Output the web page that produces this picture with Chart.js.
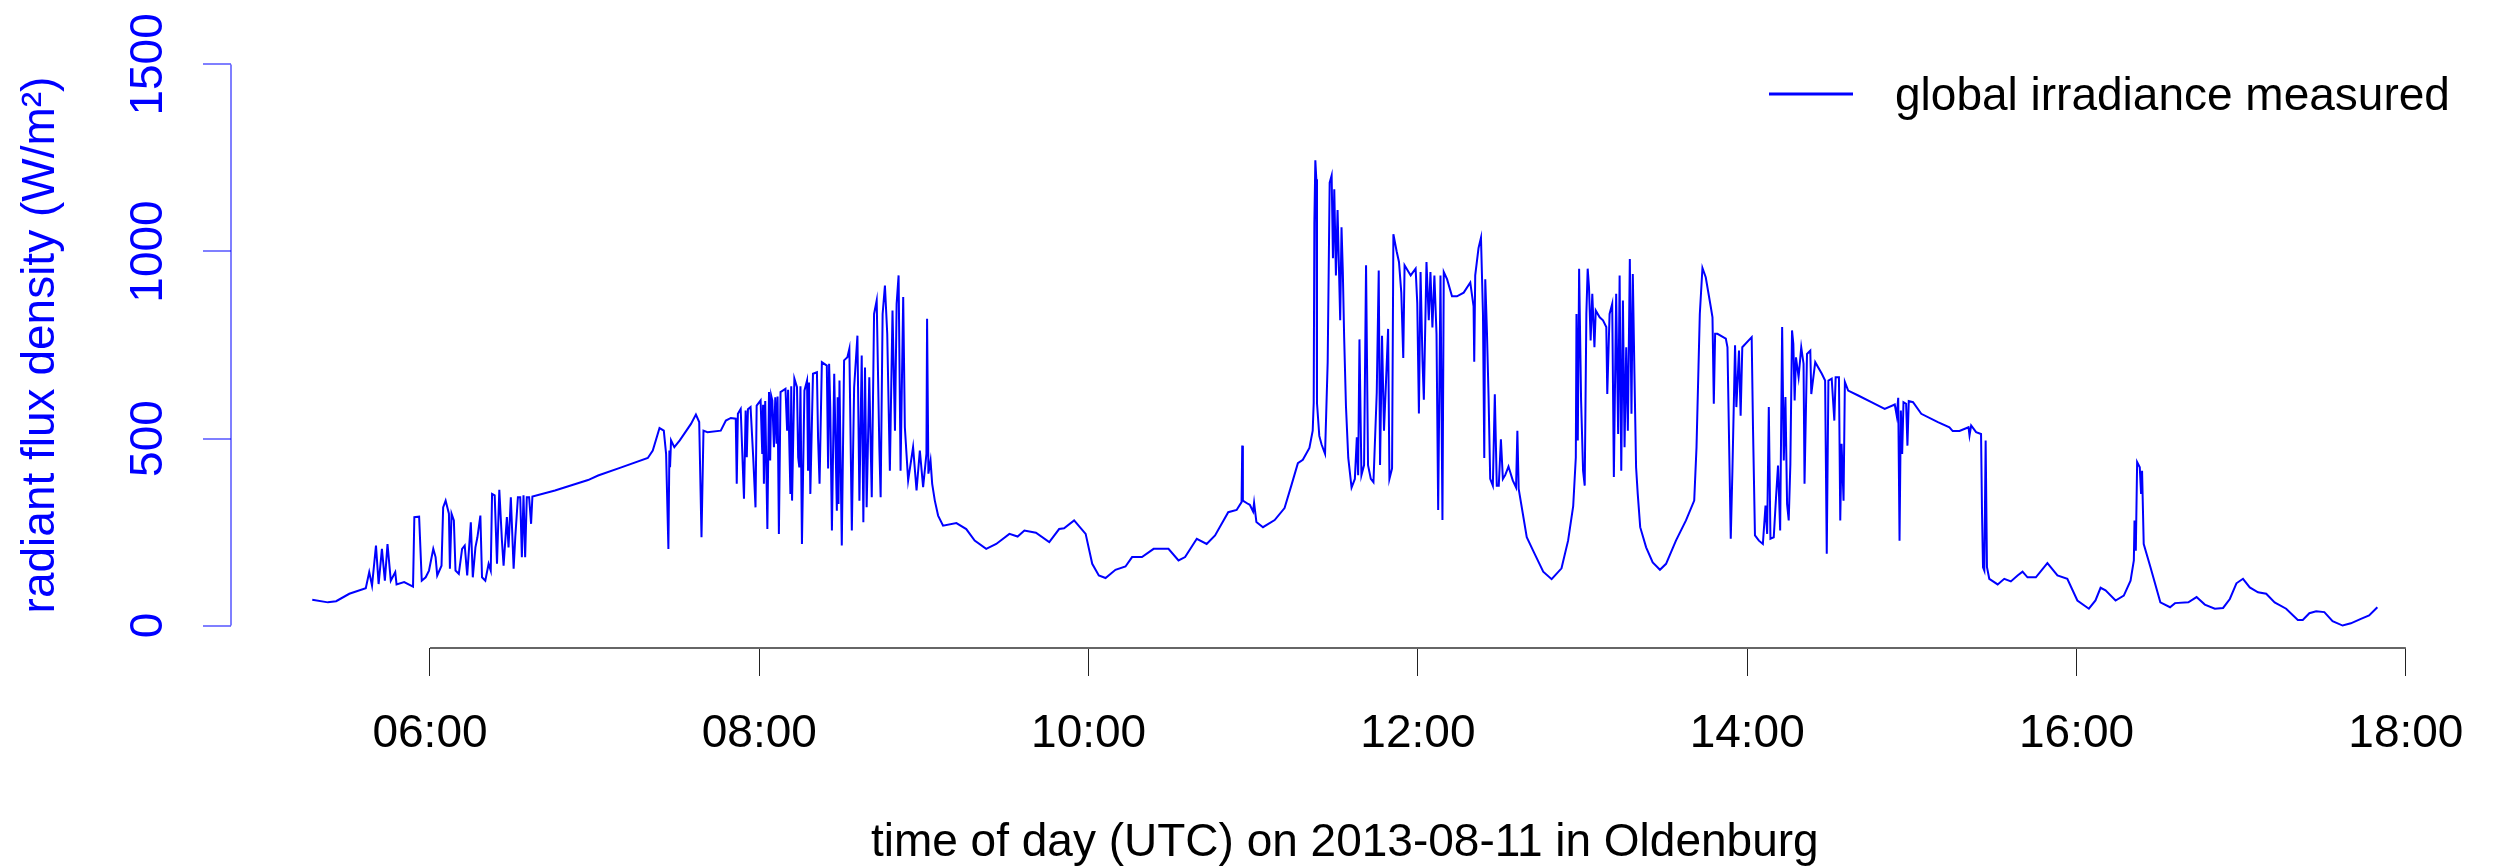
<!DOCTYPE html>
<html>
<head>
<meta charset="utf-8">
<title>global irradiance measured - Oldenburg 2013-08-11</title>
<script src="https://cdn.jsdelivr.net/npm/chart.js@4.4.1/dist/chart.umd.min.js"></script>
<style>
  html, body { margin: 0; padding: 0; background: #fff; }
  #wrap { width: 2495px; height: 866px; }
</style>
</head>
<body>
<div id="wrap"><canvas id="chart-irradiance" width="2495" height="866"></canvas></div>
<script>
// --- data (time of day in decimal hours UTC, irradiance in W/m²) ---
const hoursDawn = [5.285, 5.38, 5.43, 5.51, 5.61, 5.631, 5.648, 5.672, 5.688, 5.708,
  5.726, 5.742, 5.762, 5.789, 5.797, 5.843, 5.897, 5.905, 5.934, 5.95,
  5.974, 5.994, 6.02, 6.034, 6.044, 6.07, 6.08, 6.095, 6.115, 6.121,
  6.131, 6.145, 6.155, 6.175, 6.195, 6.211, 6.226, 6.248, 6.26, 6.276,
  6.288, 6.306, 6.316, 6.336, 6.356, 6.369, 6.377, 6.393, 6.407, 6.421,
  6.437, 6.447, 6.467, 6.477, 6.491, 6.508, 6.518, 6.534, 6.548, 6.558,
  6.568, 6.578, 6.588, 6.602, 6.614, 6.622, 6.759, 6.96];
const wm2Dawn = [69, 62, 65, 85, 100, 143, 107, 214, 111, 205,
  120, 218, 120, 143, 110, 116, 104, 290, 291, 120,
  129, 147, 205, 183, 134, 160, 316, 334, 299, 152,
  299, 281, 147, 138, 205, 214, 134, 276, 129, 209,
  236, 294, 129, 120, 165, 147, 352, 348, 165, 363,
  227, 160, 290, 209, 343, 152, 236, 343, 343, 183,
  348, 183, 343, 343, 272, 345, 361, 389];

const hoursMorning = [7.021, 7.162, 7.323, 7.353, 7.394, 7.42, 7.434, 7.448, 7.454, 7.458,
  7.464, 7.484, 7.517, 7.585, 7.615, 7.635, 7.649, 7.661, 7.685, 7.766,
  7.797, 7.827, 7.857, 7.863, 7.87, 7.887, 7.907, 7.917, 7.924, 7.931,
  7.947, 7.963, 7.977, 7.984, 8.008, 8.018, 8.023, 8.028, 8.036, 8.049,
  8.059, 8.066, 8.072, 8.079, 8.089, 8.097, 8.105, 8.111, 8.119, 8.129,
  8.159, 8.169, 8.175, 8.189, 8.194, 8.199, 8.213, 8.229, 8.236, 8.243,
  8.25, 8.259, 8.274, 8.29, 8.296, 8.302, 8.31, 8.326, 8.35, 8.357,
  8.366, 8.38, 8.41, 8.418, 8.424, 8.431, 8.441, 8.455, 8.471, 8.476,
  8.481, 8.487, 8.501, 8.515, 8.535, 8.547, 8.562, 8.569, 8.576, 8.596,
  8.608, 8.622, 8.632, 8.642, 8.652, 8.668, 8.683, 8.697, 8.713, 8.729,
  8.737, 8.749, 8.763, 8.777, 8.793, 8.809, 8.824, 8.834, 8.846, 8.858,
  8.874, 8.884, 8.904, 8.934, 8.955, 8.975, 8.995, 9.015];
const wm2Morning = [401, 423, 448, 468, 528, 521, 459, 205, 468, 423,
  495, 477, 495, 539, 564, 544, 236, 521, 517, 521,
  548, 555, 553, 379, 566, 579, 339, 575, 450, 578,
  584, 450, 316, 588, 602, 459, 590, 379, 600, 258,
  624, 441, 615, 602, 477, 610, 486, 612, 245, 624,
  633, 521, 630, 352, 640, 334, 660, 637, 450, 423,
  640, 218, 628, 655, 414, 650, 352, 673, 677, 500,
  379, 704, 695, 420, 700, 584, 254, 673, 307, 610,
  325, 655, 214, 709, 717, 740, 254, 450, 637, 775,
  334, 722, 276, 690, 316, 664, 343, 833, 869, 477,
  343, 833, 909, 780, 414, 842, 521, 860, 936, 414,
  878, 530, 388, 477, 361, 468, 370, 459];

const hoursLateMorning = [9.019, 9.027, 9.04, 9.05, 9.066, 9.086, 9.116, 9.197, 9.257, 9.308,
  9.378, 9.439, 9.519, 9.569, 9.61, 9.68, 9.761, 9.821, 9.851, 9.912,
  9.982, 10.022, 10.062, 10.103, 10.163, 10.224, 10.264, 10.324, 10.395, 10.485,
  10.546, 10.586, 10.657, 10.717, 10.768, 10.848, 10.899, 10.929, 10.933, 10.937,
  10.969];
const wm2LateMorning = [820, 406, 441, 379, 334, 294, 267, 274, 258, 227,
  205, 218, 245, 238, 254, 248, 223, 258, 260, 281,
  245, 165, 134, 127, 149, 158, 183, 183, 205, 205,
  174, 183, 232, 218, 241, 303, 309, 330, 481, 334,
  325];

const hoursNoon = [10.979, 10.999, 11.005, 11.019, 11.059, 11.13, 11.19, 11.231, 11.271, 11.301,
  11.341, 11.361, 11.367, 11.371, 11.377, 11.383, 11.387, 11.401, 11.415, 11.436,
  11.452, 11.464, 11.476, 11.484, 11.492, 11.502, 11.512, 11.528, 11.536, 11.544,
  11.552, 11.563, 11.577, 11.597, 11.617, 11.629, 11.637, 11.645, 11.657, 11.673,
  11.685, 11.697, 11.714, 11.73, 11.75, 11.762, 11.77, 11.782, 11.794, 11.806,
  11.819, 11.827, 11.843, 11.851, 11.871, 11.885, 11.899, 11.911, 11.919, 11.956,
  11.986, 11.996, 12.006, 12.016, 12.028, 12.036, 12.052, 12.066, 12.076, 12.088,
  12.1, 12.113, 12.123, 12.137, 12.149, 12.157, 12.177, 12.207, 12.237, 12.278,
  12.318, 12.338, 12.342, 12.348, 12.368, 12.383, 12.395, 12.403, 12.409, 12.419,
  12.429, 12.439, 12.455, 12.467, 12.479, 12.491, 12.504, 12.516, 12.53, 12.55,
  12.576, 12.596, 12.604, 12.612, 12.661, 12.701, 12.761, 12.812, 12.872, 12.912,
  12.943];
const wm2Noon = [323, 305, 328, 277, 263, 282, 314, 374, 434, 443,
  475, 521, 595, 1074, 1244, 1193, 595, 507, 484, 459,
  705, 1184, 1203, 982, 1166, 936, 1111, 816, 1065, 945,
  770, 586, 448, 369, 392, 503, 402, 765, 402, 429,
  963, 429, 392, 383, 623, 949, 429, 775, 521, 650,
  793, 392, 420, 1046, 1000, 972, 890, 715, 963, 936,
  954, 862, 567, 945, 705, 604, 972, 816, 945, 797,
  936, 779, 309, 936, 282, 945, 926, 880, 880, 890,
  917, 853, 705, 936, 1009, 1037, 834, 448, 926, 788,
  613, 392, 374, 618, 374, 374, 498, 392, 402, 425,
  388, 369, 521, 365, 236, 199, 144, 124, 153, 227,
  319];

const hoursAfternoon = [12.959, 12.963, 12.971, 12.979, 12.991, 13.003, 13.013, 13.023, 13.031, 13.039,
  13.049, 13.059, 13.072, 13.08, 13.104, 13.124, 13.144, 13.15, 13.164, 13.18,
  13.19, 13.204, 13.216, 13.225, 13.235, 13.245, 13.255, 13.265, 13.275, 13.287,
  13.297, 13.305, 13.315, 13.325, 13.335, 13.35, 13.386, 13.426, 13.47, 13.507,
  13.567, 13.628, 13.678, 13.692, 13.704, 13.712, 13.728, 13.748, 13.779, 13.789,
  13.797, 13.805, 13.819, 13.87, 13.88, 13.9, 13.91, 13.926, 13.934, 13.95,
  13.96, 13.97, 14.027, 14.035, 14.047, 14.071, 14.095, 14.111, 14.121, 14.131,
  14.141, 14.161, 14.175, 14.187, 14.2, 14.212, 14.222, 14.232, 14.242, 14.252,
  14.262, 14.272, 14.28, 14.288, 14.296, 14.312, 14.328, 14.342, 14.348, 14.363,
  14.383, 14.389, 14.413, 14.453, 14.473, 14.483, 14.493, 14.513, 14.529, 14.537,
  14.557, 14.565, 14.573, 14.585, 14.593, 14.613, 14.674, 14.754, 14.835];
const wm2Afternoon = [450, 833, 495, 954, 602, 414, 374, 833, 954, 905,
  762, 887, 744, 842, 824, 816, 798, 619, 833, 860,
  397, 887, 512, 936, 414, 869, 477, 744, 521, 980,
  566, 940, 673, 423, 352, 263, 209, 169, 149, 165,
  227, 281, 334, 477, 691, 833, 956, 931, 851, 824,
  593, 780, 780, 767, 744, 232, 414, 749, 584, 735,
  561, 744, 771, 530, 241, 227, 218, 321, 245, 584,
  232, 236, 343, 428, 254, 798, 441, 611, 325, 281,
  432, 789, 753, 602, 717, 664, 744, 700, 379, 726,
  735, 619, 704, 673, 655, 192, 655, 660, 548, 664,
  664, 281, 486, 334, 651, 628, 615, 597, 579];

const hoursLateAfternoon = [14.896, 14.908, 14.917, 14.925, 14.933, 14.941, 14.949, 14.965, 14.973, 14.981,
  15.007, 15.057, 15.158, 15.228, 15.248, 15.289, 15.344, 15.35, 15.36, 15.39,
  15.42, 15.426, 15.432, 15.44, 15.448, 15.456, 15.47, 15.521, 15.561, 15.601,
  15.642, 15.672, 15.702, 15.753, 15.823, 15.884, 15.944, 16.005, 16.075, 16.115,
  16.146, 16.176, 16.237, 16.287, 16.328, 16.348, 16.352, 16.36, 16.368, 16.384,
  16.392, 16.398, 16.408, 16.449, 16.509];
const wm2LateAfternoon = [591, 561, 609, 227, 575, 459, 597, 593, 481, 600,
  597, 566, 544, 530, 520, 520, 530, 508, 535, 517,
  512, 299, 156, 147, 495, 156, 125, 110, 125, 118,
  134, 144, 129, 129, 167, 134, 125, 67, 45, 67,
  101, 94, 67, 80, 120, 174, 281, 200, 437, 423,
  352, 414, 218, 156, 62];

const hoursEvening = [16.568, 16.598, 16.679, 16.729, 16.779, 16.84, 16.89, 16.931, 16.971, 17.011,
  17.052, 17.102, 17.152, 17.203, 17.273, 17.344, 17.374, 17.414, 17.455, 17.505,
  17.555, 17.616, 17.666, 17.727, 17.777, 17.827];
const wm2Evening = [49, 60, 62, 76, 56, 45, 47, 71, 113, 125,
  102, 89, 85, 62, 45, 15, 15, 33, 38, 36,
  12, 0, 6, 18, 27, 49];

const xTickHours = [6, 8, 10, 12, 14, 16, 18];
const xTickLabels = ['06:00', '08:00', '10:00', '12:00', '14:00', '16:00', '18:00'];
const yTickValues = [0, 500, 1000, 1500];

const seriesLabel = 'global irradiance measured';
const xTitle = 'time of day (UTC) on 2013-08-11 in Oldenburg';
const yTitle = 'radiant flux density (W/m²)';

// R-style plot region: data range plus 4% on each side
const X_MIN = 4.7915, X_MAX = 18.3202;
const Y_MIN = -60, Y_MAX = 1560;

const FONT = "'Liberation Sans', Arial, Helvetica, sans-serif";

const hours = [].concat(hoursDawn, hoursMorning, hoursLateMorning, hoursNoon, hoursAfternoon, hoursLateAfternoon, hoursEvening);
const irradiance = [].concat(wm2Dawn, wm2Morning, wm2LateMorning, wm2Noon, wm2Afternoon, wm2LateAfternoon, wm2Evening);
if (hours.length !== irradiance.length) console.warn('length mismatch', hours.length, irradiance.length);
const points = hours.map((h, i) => ({ x: h, y: irradiance[i] }));

// axis lines that only run from first to last tick (like R's axis()), plus the legend
const rStyleAxes = {
  id: 'rStyleAxes',
  afterDraw(chart){
    const { ctx, chartArea, scales: { x, y } } = chart;
    ctx.save();
    // y axis
    ctx.strokeStyle = 'rgba(0,0,255,0.5)';
    ctx.lineWidth = 2;
    ctx.beginPath();
    ctx.moveTo(chartArea.left, y.getPixelForValue(yTickValues[0]));
    ctx.lineTo(chartArea.left, y.getPixelForValue(yTickValues[yTickValues.length - 1]));
    ctx.stroke();
    // x axis
    ctx.strokeStyle = '#666';
    ctx.lineWidth = 2;
    ctx.beginPath();
    ctx.moveTo(x.getPixelForValue(xTickHours[0]), chartArea.bottom);
    ctx.lineTo(x.getPixelForValue(xTickHours[xTickHours.length - 1]), chartArea.bottom);
    ctx.stroke();
    // legend (top right, no box)
    const ds = chart.data.datasets[0];
    ctx.strokeStyle = ds.borderColor;
    ctx.lineWidth = 3;
    ctx.beginPath();
    ctx.moveTo(1769, 94);
    ctx.lineTo(1853, 94);
    ctx.stroke();
    ctx.fillStyle = '#000';
    ctx.font = '46px ' + FONT;
    ctx.textBaseline = 'alphabetic';
    ctx.textAlign = 'left';
    ctx.fillText(ds.label, 1895, 110);
    ctx.restore();
  }
};

new Chart(document.getElementById('chart-irradiance'), {
  type: 'line',
  data: {
    datasets: [{
      label: seriesLabel,
      data: points,
      borderColor: '#0000ff',
      borderWidth: 2,
      pointRadius: 0,
      tension: 0,
      fill: false
    }]
  },
  options: {
    responsive: false,
    devicePixelRatio: 1,
    animation: false,
    events: [],
    layout: { padding: { left: 0, right: 25, top: 42, bottom: 0 } },
    plugins: { legend: { display: false }, tooltip: { enabled: false } },
    scales: {
      x: {
        type: 'linear',
        position: 'bottom',
        min: X_MIN,
        max: X_MAX,
        afterBuildTicks: s => { s.ticks = xTickHours.map(v => ({ value: v })); },
        afterFit: s => { s.height = 218; },
        ticks: {
          autoSkip: false, maxRotation: 0, minRotation: 0, padding: 31,
          color: '#000', font: { family: FONT, size: 46 },
          callback: (v, i) => xTickLabels[i]
        },
        grid: { drawOnChartArea: false, drawTicks: true, tickLength: 28, color: '#222', lineWidth: 1 },
        border: { display: false },
        title: { display: true, text: xTitle, color: '#000', font: { family: FONT, size: 46, lineHeight: 1 }, padding: { top: 0, bottom: 0 } }
      },
      y: {
        type: 'linear',
        position: 'left',
        min: Y_MIN,
        max: Y_MAX,
        afterBuildTicks: s => { s.ticks = yTickValues.map(v => ({ value: v })); },
        afterFit: s => { s.width = 231; },
        ticks: {
          minRotation: 90, maxRotation: 90, crossAlign: 'center', padding: 3,
          color: '#0000ff', font: { family: FONT, size: 46 },
          callback: v => String(v)
        },
        grid: { drawOnChartArea: false, drawTicks: true, tickLength: 28, color: 'rgba(0,0,255,0.5)', lineWidth: 2 },
        border: { display: false },
        title: { display: true, text: yTitle, color: '#0000ff', font: { family: FONT, size: 46, lineHeight: 1 }, padding: { top: 18, bottom: 0 } }
      }
    }
  },
  plugins: [rStyleAxes]
});
</script>
</body>
</html>
